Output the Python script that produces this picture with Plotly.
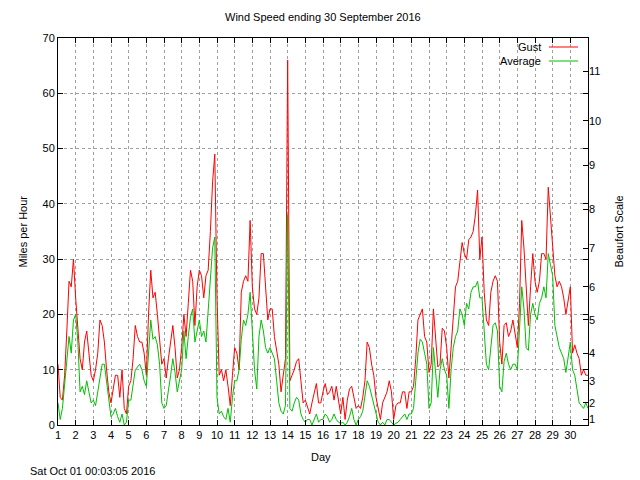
import numpy as np
import plotly.graph_objects as go

# ---- data (mph), sampled every 3 hours from 1 Sep 00:00 to 1 Oct 00:00 ----
samples_per_day = 8
first_day = 1

gust = [
    11, 5, 4.5, 9, 17, 26, 25, 30,            # 1
    23, 17, 12, 10, 15, 17, 13, 9,            # 2
    8, 10, 13, 19, 18, 15, 10, 6,             # 3
    4, 7, 9, 9, 5, 10, 3, 2,                  # 4
    7, 8, 12, 18, 16, 15, 15, 13,             # 5
    9, 20, 28, 23, 24, 20, 16, 11,            # 6
    12, 8.5, 12, 15, 18, 14, 8.5, 10,         # 7
    14, 20, 16, 22, 28, 26, 18, 25,           # 8
    28, 27, 23, 27, 28, 35, 44, 49,           # 9
    23, 9, 10, 8, 10, 7, 3.5, 9,              # 10
    14, 13, 10, 24, 26, 27, 26, 37,           # 11
    25, 21, 20, 23, 31, 31, 24, 19,           # 12
    21, 21, 16, 13, 11, 6, 9, 12,             # 13
    66, 8, 9, 10, 11.5, 12, 8, 4,             # 14
    4.5, 3, 2, 4, 6, 7.5, 4, 4,               # 15
    6, 7.5, 5.5, 6, 7, 4.5, 7, 4,             # 16
    2, 5, 1, 4.5, 6.5, 7, 5, 3,               # 17
    3.5, 3, 5, 8, 15, 14, 11, 9,              # 18
    5, 3, 1, 4, 5, 6, 8, 6,                   # 19
    1, 3.5, 4, 4, 6, 6, 3, 6,                 # 20
    6, 7, 12, 19, 20, 21, 16, 15,             # 21
    9.5, 11, 21, 15, 10.5, 11, 17.5, 17,      # 22
    14, 8.5, 14, 20, 25, 26, 29, 33,          # 23
    31, 30, 33.5, 34, 35, 38, 42.5, 30,       # 24
    34, 24, 19, 18, 24, 26, 27, 26,           # 25
    15, 11, 18, 18.5, 16, 17, 19, 16,         # 26
    14, 22, 37, 32, 26, 18, 25, 31,           # 27
    26, 24, 26, 31, 31, 30, 43, 37,           # 28
    33, 27, 25, 26, 25, 23, 20, 23,           # 29
    25, 13, 14.5, 13, 12, 9, 10, 9,           # 30
    9,                                        # 1 Oct 00:00
]

average = [
    4, 1, 3, 7.5, 12, 16, 13, 19,             # 1
    20, 15, 6, 7, 5.5, 8, 6, 4,               # 2
    4.5, 3.5, 6, 8.5, 11, 11, 8, 5,           # 3
    1.5, 2, 3, 1.5, 0.5, 2, 0, 0.5,           # 4
    4.5, 4.5, 7, 10, 10.5, 11, 10, 8,         # 5
    7, 14, 19, 15.5, 16, 14.5, 11, 4,         # 6
    3, 3.5, 6, 9, 12, 9.5, 6, 8,              # 7
    10, 17, 12, 16, 19.5, 21, 15, 17,         # 8
    19, 16, 17, 15, 21, 28, 32, 34,           # 9
    5, 2, 2.5, 1.5, 1, 3, 0.5, 5,             # 10
    8, 8, 10, 15.5, 19, 18, 20, 24,           # 11
    16, 10, 6.5, 16, 19, 17, 14, 13,          # 12
    14, 13, 12, 8, 4, 2.5, 2, 3.5,            # 13
    38, 3, 2.5, 4, 5, 4.5, 2, 1,              # 14
    0.5, 1, 1, 0, 1, 2, 0.5, 1,               # 15
    1, 2, 1.5, 0.5, 1, 2, 1, 0.5,             # 16
    0.3, 0.5, 0, 0.5, 1.5, 3, 1, 0,           # 17
    1, 1.5, 2.5, 5.5, 8, 7, 5.5, 4,           # 18
    2.5, 0.5, 0, 0.5, 0, 1, 1, 0.5,           # 19
    0, 0.3, 0.5, 1, 1.5, 2, 1, 2,             # 20
    2, 3, 8, 13, 15.5, 15, 13, 11,            # 21
    3, 4, 14, 9.5, 5, 10, 12, 10,             # 22
    9, 3, 10, 14, 16, 17, 21, 20,             # 23
    18, 22, 21, 24, 25, 25, 26, 23,           # 24
    23, 17, 11, 10, 14, 18, 18.5, 17,         # 25
    7, 6, 11.5, 13, 11, 10, 11, 11,           # 26
    10, 17, 25, 21, 14, 13.5, 20, 22,         # 27
    20, 19, 22, 23, 25, 23, 31, 29,           # 28
    27, 18, 16, 14, 13, 12, 9.5, 12,          # 29
    15, 10, 9, 6.5, 4, 3.5, 3, 4,             # 30
    3,                                        # 1 Oct 00:00
]

day_ticks = list(range(1, 31))
beaufort_mph = [1, 4, 8, 13, 19, 25, 32, 39, 47, 55, 64]
beaufort_labels = [str(i) for i in range(1, 12)]

title_text = "Wind Speed ending 30 September 2016"
timestamp_text = "Sat Oct 01 00:03:05 2016"

days = first_day + np.arange(len(gust)) / samples_per_day

RED = "#ff0000"
GREEN = "#00c000"
GRID = "#a0a0a0"
FONT = "Liberation Sans, Arial, sans-serif"

fig = go.Figure()
fig.add_trace(go.Scatter(x=days, y=gust, mode="lines", name="Gust",
                         line=dict(color=RED, width=1), showlegend=False))
fig.add_trace(go.Scatter(x=days, y=average, mode="lines", name="Average",
                         line=dict(color=GREEN, width=1), showlegend=False))
# invisible trace to activate the Beaufort axis
fig.add_trace(go.Scatter(x=[days[0]], y=[0], yaxis="y2", mode="markers",
                         marker=dict(opacity=0), showlegend=False, hoverinfo="skip"))

# the page body has an 8px margin, so the figure is 8px smaller and
# margins are reduced by 8px on the left/top
PL, PT, PW, PH = 58, 38, 530, 387   # plot area in window pixels


def px_x(p):
    return (p - PL) / PW


def px_y(p):
    return (PT + PH - p) / PH


fig.update_layout(
    width=632, height=472, autosize=False,
    margin=dict(l=PL - 8, r=632 - (PL - 8) - PW, t=PT - 8, b=472 - (PT - 8) - PH),
    paper_bgcolor="white", plot_bgcolor="white",
    font=dict(family=FONT, size=11, color="black"),
    xaxis=dict(range=[1, 31], tickmode="array", tickvals=day_ticks,
               ticks="inside", ticklen=5, tickcolor="black",
               showline=True, linecolor="black", linewidth=1, mirror="ticks",
               showgrid=True, gridcolor=GRID, griddash="3px,3px", gridwidth=1,
               zeroline=False, tickfont=dict(size=11)),
    yaxis=dict(range=[0, 70], tickmode="linear", tick0=0, dtick=10,
               ticks="inside", ticklen=5, tickcolor="black",
               showline=True, linecolor="black", linewidth=1, mirror="ticks",
               showgrid=True, gridcolor=GRID, griddash="3px,3px", gridwidth=1,
               zeroline=False, tickfont=dict(size=11)),
    yaxis2=dict(range=[0, 70], overlaying="y", side="right",
                tickmode="array", tickvals=beaufort_mph, ticktext=beaufort_labels,
                ticks="inside", ticklen=5, tickcolor="black",
                showline=False, showgrid=False, zeroline=False,
                tickfont=dict(size=11)),
)

ann = [
    dict(text=title_text, x=0.5, y=px_y(17), xanchor="center", yanchor="middle"),
    dict(text="Miles per Hour", x=px_x(22), y=0.5, textangle=-90,
         xanchor="center", yanchor="middle"),
    dict(text="Beaufort Scale", x=px_x(618), y=0.5, textangle=-90,
         xanchor="center", yanchor="middle"),
    dict(text="Day", x=px_x(321), y=px_y(457), xanchor="center", yanchor="middle"),
    dict(text=timestamp_text, x=px_x(28), y=px_y(471), xanchor="left", yanchor="middle"),
    dict(text="Gust", x=px_x(543), y=px_y(47), xanchor="right", yanchor="middle"),
    dict(text="Average", x=px_x(543), y=px_y(61), xanchor="right", yanchor="middle"),
]
for a in ann:
    a.update(xref="paper", yref="paper", showarrow=False,
             font=dict(family=FONT, size=11, color="black"))
fig.update_layout(annotations=ann)

fig.add_shape(type="line", xref="paper", yref="paper",
              x0=px_x(549), x1=px_x(578), y0=px_y(47), y1=px_y(47),
              line=dict(color=RED, width=1))
fig.add_shape(type="line", xref="paper", yref="paper",
              x0=px_x(549), x1=px_x(578), y0=px_y(61), y1=px_y(61),
              line=dict(color=GREEN, width=1))

fig.write_html("out.html")
